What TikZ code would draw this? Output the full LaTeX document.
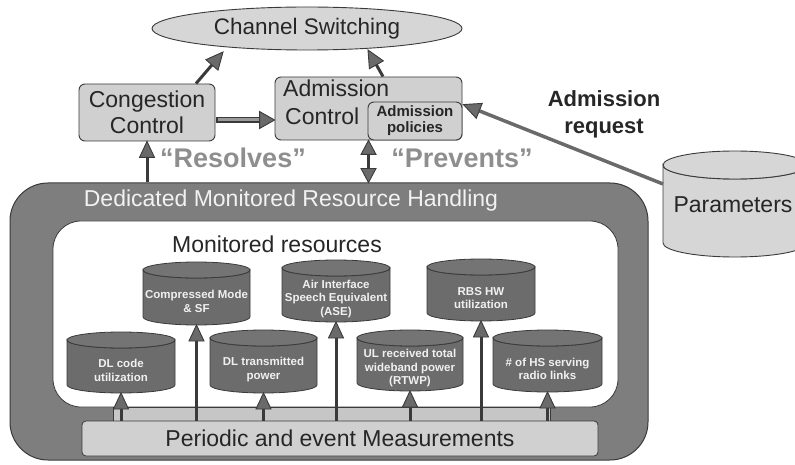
\documentclass[tikz,border=0pt]{standalone}
\usepackage{fontspec}
\setmainfont{Liberation Sans}
\usetikzlibrary{calc,shapes.geometric}

\definecolor{inkdark}{HTML}{3A3A3A}
\definecolor{textdark}{HTML}{262626}
\definecolor{boxgrey}{HTML}{D0D0D0}
\definecolor{paleGrey}{HTML}{D6D6D6}
\definecolor{shellgrey}{HTML}{7E7E7E}
\definecolor{drumgrey}{HTML}{6C6C6C}
\definecolor{drumtopgrey}{HTML}{747474}
\definecolor{quotegrey}{HTML}{8E8E8E}
\definecolor{stripgrey}{HTML}{C6C6C6}
\definecolor{arrowgrey}{HTML}{6A6A6A}
\definecolor{midgrey}{HTML}{9A9A9A}

% cylinder: [lid radius] name, centre x, top y, lowest y, half width, label
\newcommand\drumshape[7][8]{%
  \node[drumframe, minimum width={2*#6}, minimum height={#5-#4}] (#2) at (#3,{(#4+#5)/2}) {};
  \path[drumbody] ($(#2.north west)+(0,#1)$) -- ($(#2.south west)+(0,-#1)$)
     arc[start angle=180, end angle=0, x radius=#6, y radius=#1]
     -- ($(#2.north east)+(0,#1)$)
     arc[start angle=0, end angle=180, x radius=#6, y radius=#1] -- cycle;
  \path[drumlid] ($(#2.north)+(0,#1)$) ellipse[x radius=#6, y radius=#1];
  \node[drumtext] (#2-label) at ($(#2.center)+(0,#1)$) {#7};
}

% triangular arrow head: tip, point it comes from, length, half width
\newcommand\arrowhead[4]{%
  \coordinate (hb) at ($(#1)!#3!(#2)$);
  \filldraw[linkhead] (#1) -- ($(hb)!#4!90:(#1)$) -- ($(hb)!#4!-90:(#1)$) -- cycle;
}
% connector with a head at its end: [shaft style] from, to, head length, head half width
\newcommand\linkto[5][linkline]{%
  \draw[#1] (#2) -- ($(#3)!#4!(#2)$);
  \arrowhead{#3}{#2}{#4}{#5}
}

\tikzset{
  drumframe/.style={rectangle, inner sep=0pt, outer sep=0pt},
  drumbody/.style={fill=drumgrey, draw=inkdark, line width=0.8pt},
  drumlid/.style={fill=drumtopgrey, draw=inkdark, line width=0.8pt},
  drumtext/.style={text=white!94!black, font=\bfseries\fontsize{11.5}{13.5}\selectfont, align=center},
  bigtext/.style={text=textdark, font=\fontsize{23}{26}\selectfont},
  ctrlbox/.style={rectangle, rounded corners=6pt, draw=inkdark, fill=boxgrey, line width=0.9pt, inner sep=0pt},
  quote/.style={text=quotegrey, font=\bfseries\fontsize{27}{30}\selectfont},
  linkline/.style={draw=inkdark, line width=3pt},
  linkhead/.style={fill=arrowgrey, draw=inkdark, line width=0.9pt, line join=miter},
}

\begin{document}
\begin{tikzpicture}[x=1pt, y=-1pt]
\useasboundingbox (0,0) rectangle (795,465);

% ---- top: channel switching and the two controllers
\node[ellipse, draw=inkdark, fill=paleGrey, line width=0.9pt, minimum width=310, minimum height=43, inner sep=0pt,
      text=textdark, font=\fontsize{22.5}{25}\selectfont] (cs) at (307,28.5) {Channel Switching};

\node[ctrlbox, minimum width=136, minimum height=57, align=center, text=textdark,
      font=\fontsize{23}{26}\selectfont] (cong) at (147,112.5) {Congestion\\Control};

\node[ctrlbox, minimum width=187, minimum height=63] (adm) at (368.5,108.5) {};
\node[bigtext, anchor=base west, inner sep=0pt] (admA) at (283,97) {Admission};
\node[bigtext, anchor=base west, inner sep=0pt] (admC) at (285,125) {Control};
\node[ctrlbox, minimum width=94, minimum height=38, align=center, text=textdark,
      font=\bfseries\fontsize{15}{16}\selectfont] (pol) at (415,121) {Admission\\policies};

\coordinate (congTop) at ($(cong.north)+(49,0)$);
\coordinate (csLeft) at ($(cs.center)+(-84,23.5)$);
\coordinate (admTop) at ($(adm.north)+(14.5,0)$);
\coordinate (csRight) at ($(cs.center)+(61,21.5)$);
\linkto{congTop}{csLeft}{17pt}{8pt}
\linkto{admTop}{csRight}{17pt}{8pt}

% thick congestion -> admission link
\coordinate (ca) at ($(cong.east)+(1,7.5)$);
\coordinate (cb) at (adm.west |- ca);
\draw[draw=inkdark, line width=6.5pt] (ca) -- ($(cb)+(-13,0)$);
\draw[draw=midgrey, line width=3pt] ($(ca)+(1.5,0)$) -- ($(cb)+(-14,0)$);
\arrowhead{cb}{ca}{15pt}{8.5pt}

\node[text=textdark, font=\bfseries\fontsize{22}{27}\selectfont, align=center] (req) at (604,114) {Admission\\request};

% ---- parameters store
\begin{scope}[drumbody/.style={fill=paleGrey, draw=inkdark, line width=0.9pt},
              drumlid/.style={fill=paleGrey, draw=inkdark, line width=0.9pt}]
\drumshape[14]{par}{735}{151}{257}{72}{}
\end{scope}
\node[bigtext] (parT) at (733,205) {Parameters};
\coordinate (parOut) at ($(par.north west)+(0,33)$);
\coordinate (polIn) at ($(pol.north east)+(1,3)$);
\linkto[draw=arrowgrey, line width=3.5pt]{parOut}{polIn}{17pt}{8pt}

% ---- dedicated monitored resource handling
\node[rectangle, rounded corners=38pt, draw=inkdark, fill=shellgrey, line width=1pt,
      minimum width=638, minimum height=277, inner sep=0pt] (shell) at (329,321.5) {};
\node[text=white!95!black, font=\fontsize{23}{26}\selectfont] (title) at (291,201) {Dedicated Monitored Resource Handling};
\node[rectangle, rounded corners=28pt, draw=inkdark, fill=white, line width=0.8pt,
      minimum width=565, minimum height=186, inner sep=0pt] (inner) at (335.5,314) {};
\node[bigtext] (monT) at (277,244) {Monitored resources};

\node[rectangle, draw=inkdark, fill=stripgrey, line width=0.6pt, minimum width=437, minimum height=15, inner sep=0pt] (strip) at (331.5,414.5) {};
\node[rectangle, rounded corners=4pt, draw=inkdark, fill=boxgrey, line width=0.8pt,
      minimum width=516, minimum height=35, inner sep=0pt, text=textdark, font=\fontsize{23}{26}\selectfont] (per) at (340,438.5) {Periodic and event Measurements};

% monitored resources
\drumshape{cmsf}{196.5}{262}{325}{53.5}{Compressed Mode\\\& SF}
\drumshape{ase}{336}{260}{322}{54}{Air Interface\\Speech Equivalent\\(ASE)}
\drumshape{rbs}{481}{259}{321}{54}{RBS HW\\utilization}
\drumshape{dlc}{121}{332}{393}{54}{DL code\\utilization}
\drumshape{dlp}{263.5}{330}{393}{53.5}{DL transmitted\\power}
\drumshape{rtwp}{410}{330}{391}{53}{UL received total\\wideband power\\(RTWP)}
\drumshape{hs}{547.5}{330}{392}{54.5}{\# of HS serving\\radio links}

\foreach \r in {dlc,cmsf,dlp,ase,rtwp,rbs,hs}{
  \coordinate (feed) at (per.north -| \r.south);
  \linkto{feed}{\r.south}{16pt}{7.5pt}
}

% ---- links from the monitored handling up to the controllers
\coordinate (resBase) at (shell.north -| cong.south);
\linkto{resBase}{cong.south}{16pt}{7.5pt}
\coordinate (prvBase) at (shell.north -| adm.south);
\draw[linkline] ($(prvBase)!14pt!(adm.south)$) -- ($(adm.south)!14pt!(prvBase)$);
\arrowhead{adm.south}{prvBase}{14pt}{7.5pt}
\arrowhead{prvBase}{adm.south}{14pt}{7.5pt}

\node[quote] (res) at (233,158) {“Resolves”};
\node[quote] (prev) at (462,158) {“Prevents”};
\end{tikzpicture}
\end{document}
